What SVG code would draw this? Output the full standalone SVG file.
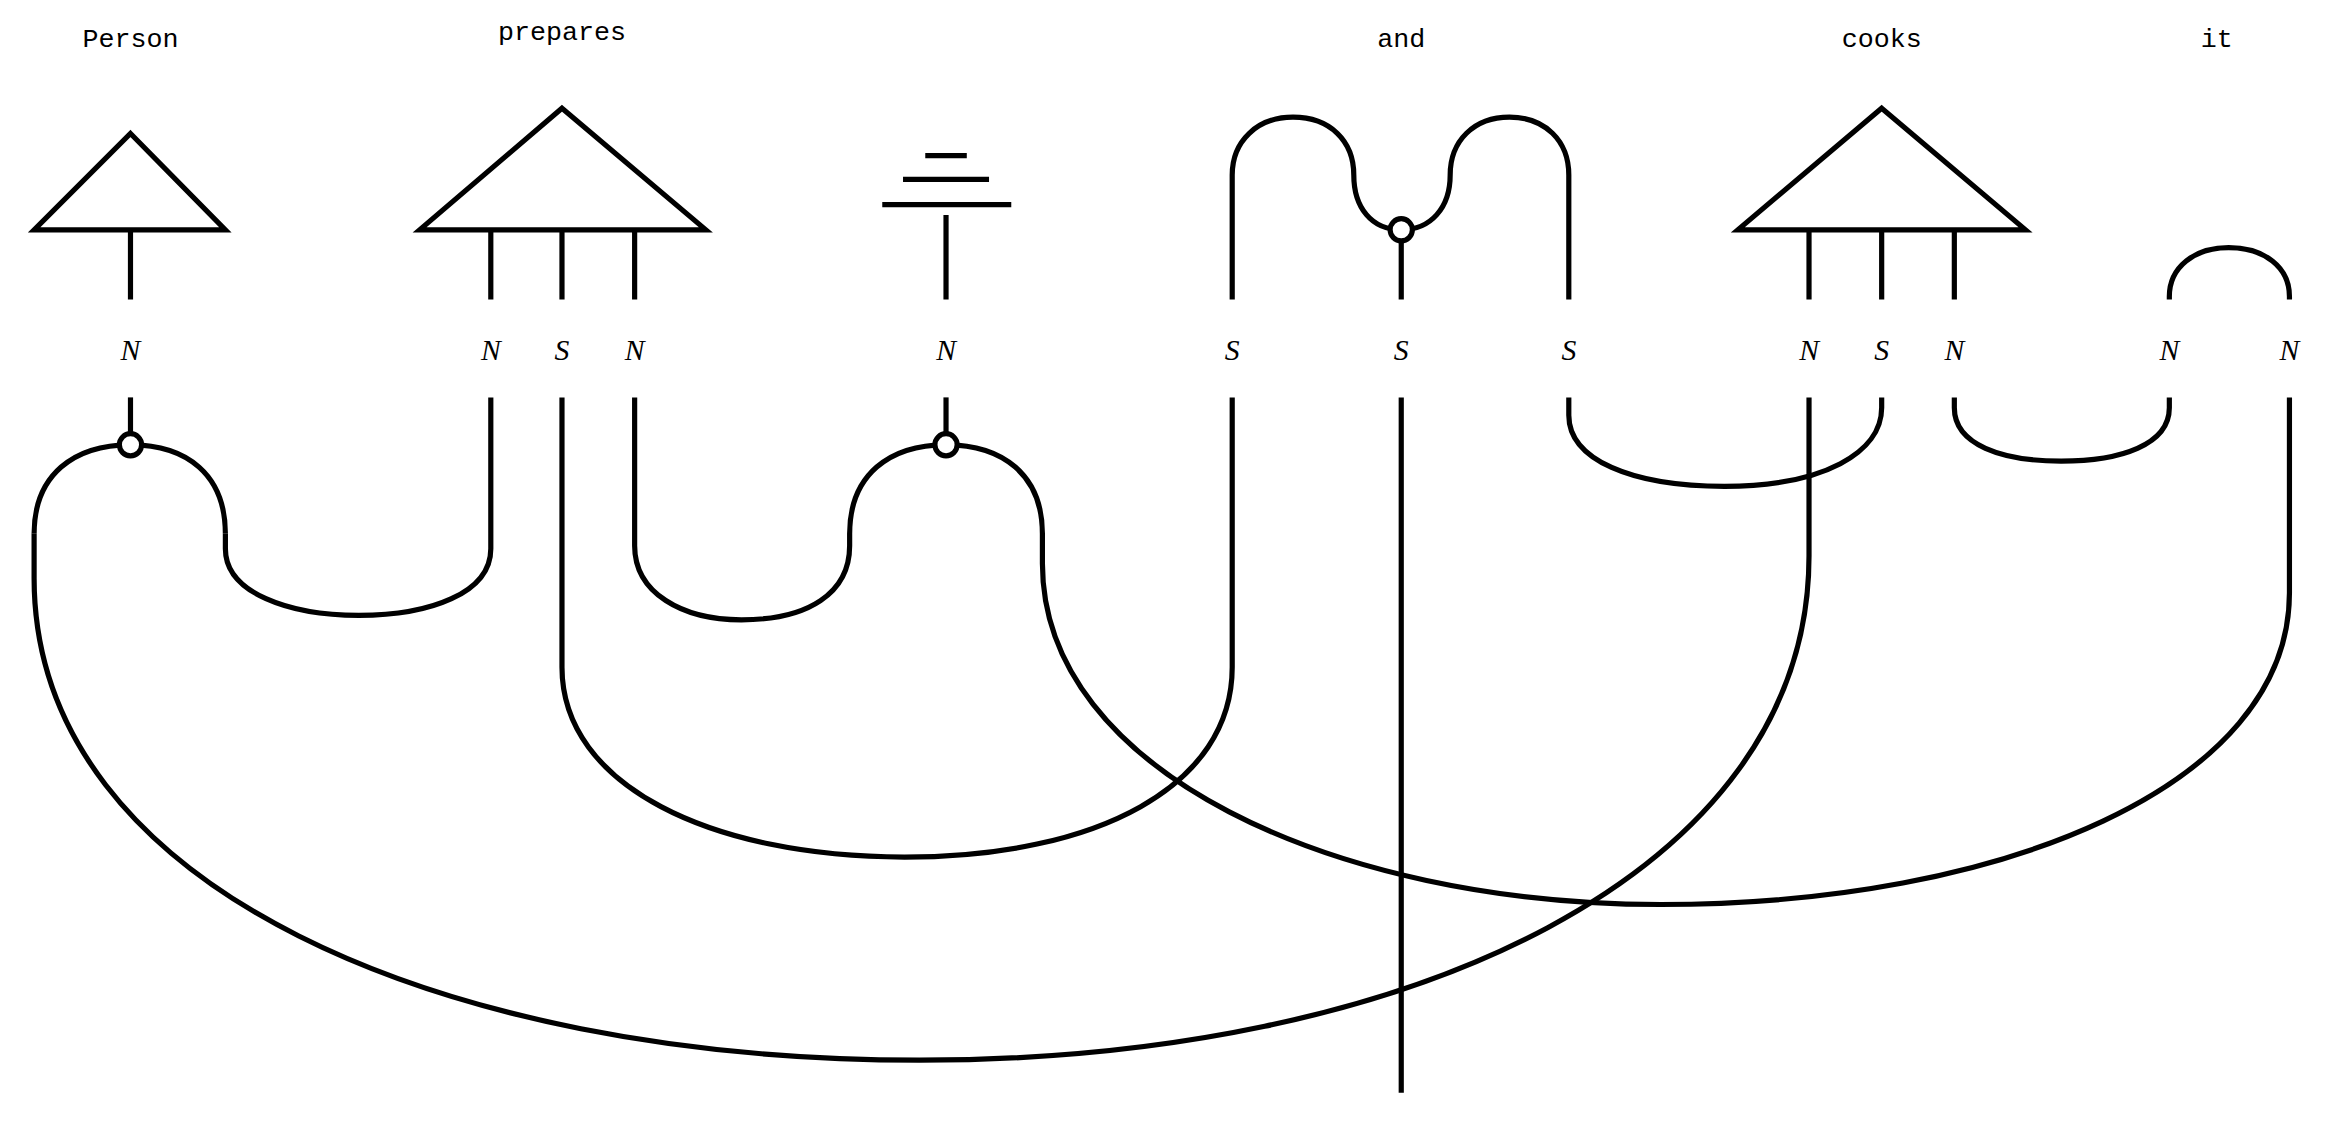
<svg xmlns="http://www.w3.org/2000/svg" width="2325" height="1135" viewBox="0 0 2325 1135">
<style>
.s{fill:none;stroke:#000;stroke-width:3.5}
.c{fill:#fff;stroke:#000;stroke-width:3.5}
.w{font-family:"Liberation Mono",monospace;font-size:18px;text-anchor:middle}
.l{font-family:"Liberation Serif",serif;font-style:italic;font-size:20px;text-anchor:middle}
</style>
<rect width="2325" height="1135" fill="#fff"/>
<g transform="scale(1.4828)">
<g id="person">
<text class="w" x="88" y="32">Person</text>
<path class="s" d="M88,90 L152,155 L23,155 Z M88,155 L88,202"/>
<text class="l" x="88" y="243">N</text>
</g>
<g id="prepares">
<text class="w" x="379" y="27">prepares</text>
<path class="s" d="M379,73 L476,155 L283,155 Z M331,155 L331,202 M379,155 L379,202 M428,155 L428,202"/>
<text class="l" x="331" y="243">N</text><text class="l" x="379" y="243">S</text><text class="l" x="428" y="243">N</text>
</g>
<g id="eq">
<path class="s" d="M624,105 L652,105 M609,121 L667,121 M595,138 L682,138 M638,145 L638,202"/>
<text class="l" x="638" y="243">N</text>
</g>
<g id="and">
<text class="w" x="945" y="32">and</text>
<path class="s" d="M831,202 L831,118 C831,95 848,79 872,79 C897,79 913,95 913,118 C913,140 925,155 945,155 C965,155 978,140 978,118 C978,95 994,79 1018,79 C1042,79 1058,95 1058,118 L1058,202 M945,155 L945,202"/>
<circle class="c" cx="945" cy="155" r="7.5"/>
<text class="l" x="831" y="243">S</text><text class="l" x="945" y="243">S</text><text class="l" x="1058" y="243">S</text>
</g>
<g id="cooks">
<text class="w" x="1269" y="32">cooks</text>
<path class="s" d="M1269,73 L1366,155 L1172,155 Z M1220,155 L1220,202 M1269,155 L1269,202 M1318,155 L1318,202"/>
<text class="l" x="1220" y="243">N</text><text class="l" x="1269" y="243">S</text><text class="l" x="1318" y="243">N</text>
</g>
<g id="it">
<text class="w" x="1495" y="32">it</text>
<path class="s" d="M1463,202 L1463,200 C1463,180 1480,167 1503,167 C1527,167 1544,180 1544,200 L1544,202"/>
<text class="l" x="1463" y="243">N</text><text class="l" x="1544" y="243">N</text>
</g>
<g id="connectors">
<path class="s" d="M88,268 L88,300"/>
<path class="s" d="M638,268 L638,300"/>
<path class="s" d="M945,268 L945,737"/>
<path class="s" d="M23,360 C23,320 50,300 88,300 C126,300 152,320 152,360"/>
<path class="s" d="M23,360 L23,390 C23,600 300,715 620,715 C950,715 1220,590 1220,375 L1220,268"/>
<path class="s" d="M152,360 L152,370 C152,400 195,415 242,415 C290,415 331,400 331,370 L331,268"/>
<path class="s" d="M379,268 L379,450 C379,530 480,578 610,578 C740,578 831,530 831,450 L831,268"/>
<path class="s" d="M428,268 L428,368 C428,400 460,418 500,418 C545,418 573,400 573,368 L573,360 C573,320 600,300 638,300 C676,300 703,320 703,360 L703,380 C703,520 900,610 1120,610 C1350,610 1544,530 1544,400 L1544,268"/>
<path class="s" d="M1058,268 L1058,280 C1058,310 1100,328 1163,328 C1230,328 1269,305 1269,275 L1269,268"/>
<path class="s" d="M1318,268 L1318,275 C1318,300 1350,311 1390,311 C1430,311 1463,300 1463,275 L1463,268"/>
<circle class="c" cx="88" cy="300" r="7.5"/>
<circle class="c" cx="638" cy="300" r="7.5"/>
</g>
</g>
</svg>
